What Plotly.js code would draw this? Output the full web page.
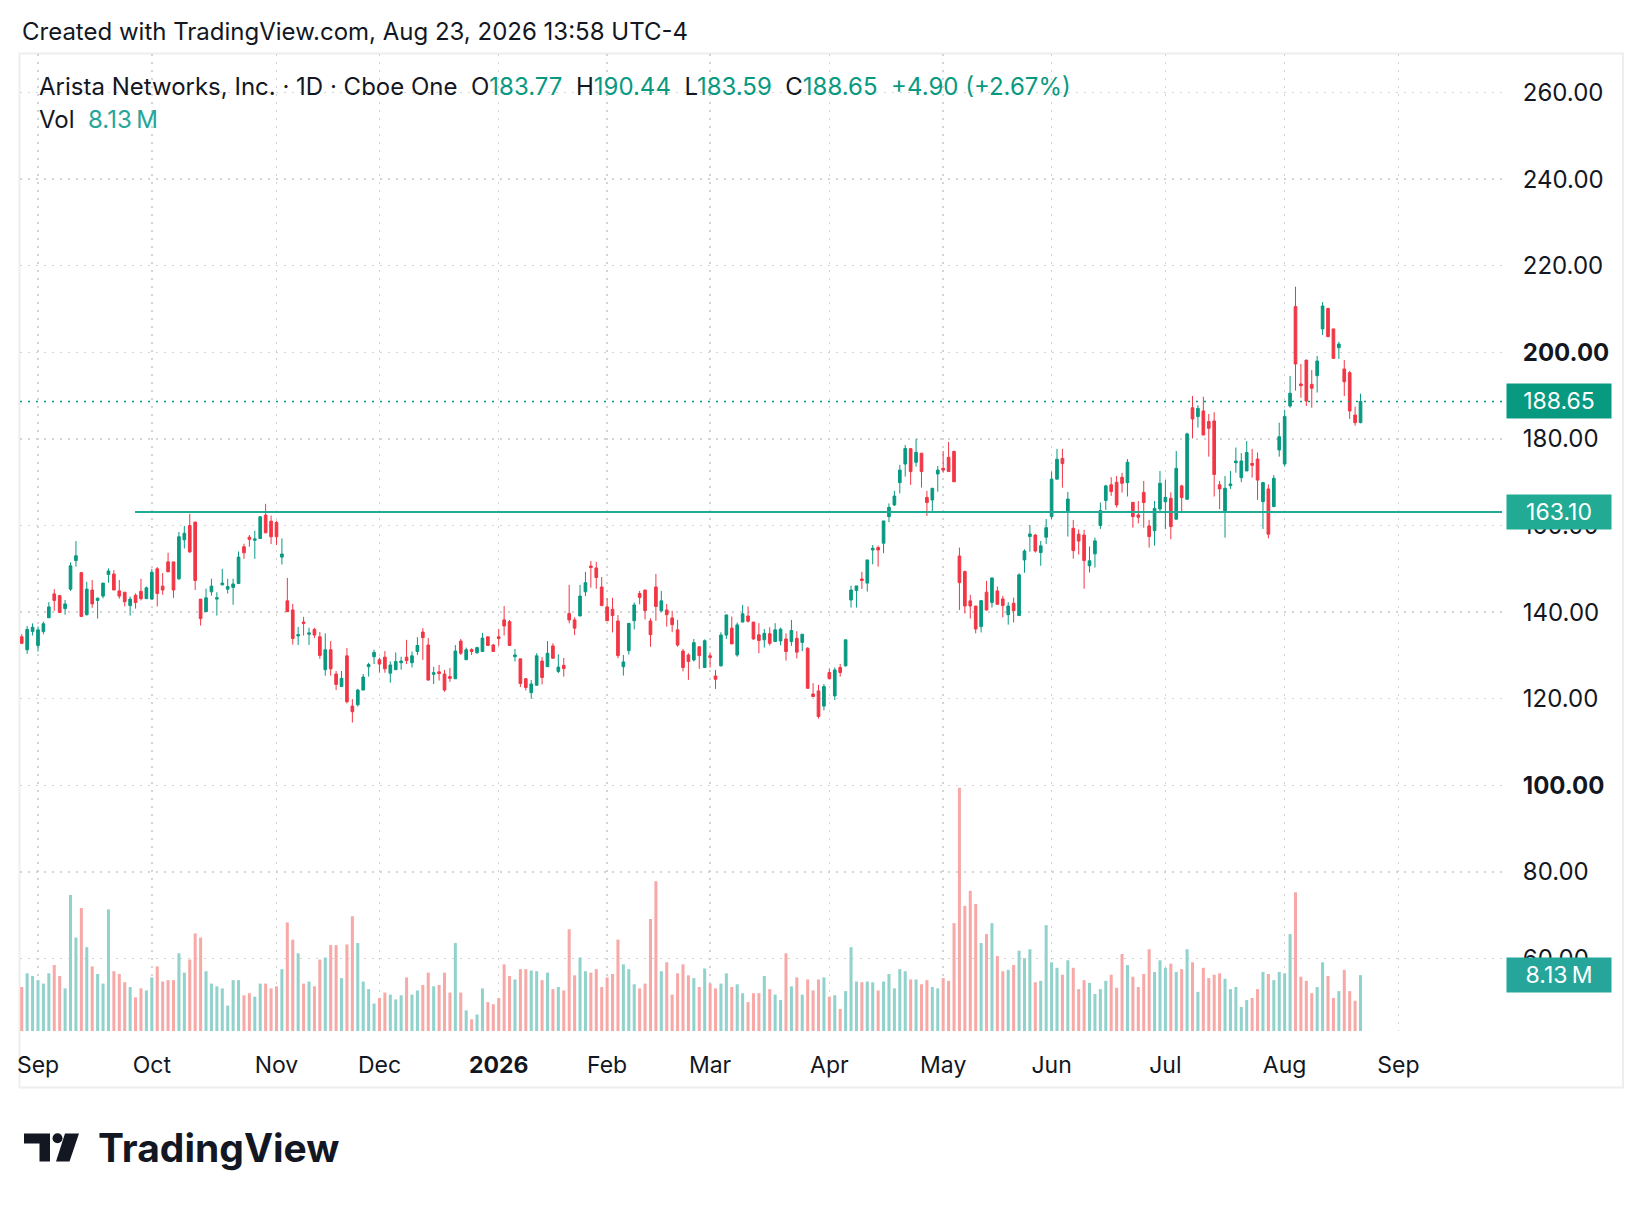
<!DOCTYPE html>
<html><head><meta charset="utf-8">
<script src="https://cdn.plot.ly/plotly-3.0.1.min.js"></script>
<style>html,body{margin:0;padding:0;background:#fff}#chart{width:1644px;height:1208px}</style>
</head><body><div id="chart"></div>
<script>
// ---------- data ----------
const firstDay = '2025-08-27';
const holidays = ['2025-09-01','2025-11-27','2025-12-25','2026-01-01','2026-01-19','2026-02-16',
  '2026-04-03','2026-05-25','2026-06-19','2026-07-03','2026-09-07'];

const open = [
134.3,131.3,135.5,132.3,135.5,138.7,144.2,143.8,140.8,145.3,
151.9,149.1,139.4,145.1,142.7,143.7,148.7,148.8,144.9,144.6,
141.5,143.9,144.8,143.1,143.0,150.0,146.0,151.6,151.6,147.7,
156.7,160.0,160.8,143.0,140.1,144.7,143.0,146.3,145.3,145.7,
146.6,155.1,157.3,156.6,157.0,162.4,161.0,160.7,152.7,142.6,
140.5,134.5,137.7,134.9,136.0,134.3,126.7,131.3,125.7,122.8,
129.9,118.3,118.6,122.0,127.4,129.7,129.0,129.6,125.9,126.7,
128.3,129.6,128.3,130.9,135.4,132.4,125.65,126.2,125.7,125.1,
124.6,133.3,129.0,131.35,130.6,130.9,134.3,132.4,134.3,138.2,
137.8,129.7,129.2,124.6,121.4,123.1,128.7,127.4,132.2,126.3,
127.7,139.7,138.2,139.1,144.7,150.65,150.2,145.8,141.2,140.65,
137.95,127.4,131.1,138.0,144.3,145.1,137.95,145.8,140.3,140.5,
138.65,135.9,131.0,130.1,128.95,132.0,127.2,129.9,125.25,127.6,
134.7,136.3,130.1,137.7,139.1,137.7,134.75,133.6,135.0,133.2,
133.35,133.8,133.2,133.95,133.0,131.65,121.1,121.8,118.3,126.05,
120.65,127.2,127.6,142.8,145.0,147.65,146.7,154.35,154.9,155.9,
162.05,164.75,169.9,174.2,177.75,174.6,176.7,166.5,165.9,171.9,
173.2,175.75,177.1,152.95,149.35,142.6,141.4,136.65,144.6,142.2,
144.9,143.05,139.4,142.05,139.2,152.05,157.45,157.8,153.75,157.3,
162.05,170.7,175.5,163.0,159.35,158.0,157.8,150.7,153.45,160.0,
165.8,169.4,170.0,171.15,169.9,165.35,162.45,167.65,159.9,158.8,
163.8,165.5,166.3,161.45,169.15,166.05,187.2,185.15,186.45,184.0,
184.15,169.4,163.2,169.2,174.5,171.05,172.6,174.35,175.35,165.5,
168.45,164.35,177.45,174.2,187.6,210.55,192.7,198.2,192.6,194.6,
205.4,210.1,205.4,201.05,196.15,195.3,185.5,183.77];

const high = [
134.9,136.8,137.4,136.7,137.8,142.3,145.3,144.0,142.8,151.5,
156.4,149.3,147.0,147.4,143.4,146.7,150.1,149.7,147.4,144.6,
143.6,144.3,147.7,145.9,150.0,150.4,149.0,153.7,151.6,158.5,
159.9,162.7,160.8,143.0,145.4,147.7,144.6,150.0,147.7,147.7,
154.0,155.8,157.8,158.8,162.2,165.0,162.3,161.1,157.0,147.9,
141.9,136.6,138.9,136.4,136.4,135.4,135.1,133.3,126.4,126.4,
131.7,119.9,122.3,125.7,128.3,131.3,129.5,131.0,128.6,130.7,
129.7,133.6,130.9,134.2,136.3,134.0,127.35,127.8,126.65,127.1,
132.4,133.8,131.8,131.65,132.0,135.2,134.3,132.65,136.1,141.4,
138.2,131.5,129.2,124.8,124.3,130.5,129.6,133.3,132.8,130.25,
129.4,146.3,138.8,146.3,149.3,151.8,151.6,148.1,143.2,143.3,
139.3,130.1,137.4,142.2,144.9,145.1,138.6,148.8,144.9,141.9,
140.3,138.2,131.5,130.5,133.8,132.2,133.7,130.7,126.65,135.35,
139.35,138.95,137.6,141.65,141.3,137.7,137.45,136.1,136.5,137.45,
136.4,135.1,138.2,135.6,134.9,131.9,123.6,123.2,123.4,127.0,
127.2,128.05,133.6,146.1,146.05,149.3,152.05,155.5,155.35,161.05,
165.1,168.0,174.0,178.6,177.9,180.0,176.7,168.0,168.6,173.75,
177.2,179.3,177.3,154.9,149.6,144.0,141.4,142.8,147.2,147.9,
145.9,143.75,142.3,143.35,148.95,154.5,160.1,158.05,156.45,161.5,
172.45,177.7,177.7,167.75,161.3,159.1,159.0,155.15,157.2,165.3,
169.4,171.15,171.45,172.15,175.35,165.35,165.65,170.3,161.3,165.65,
172.6,170.5,167.65,177.2,169.4,181.45,189.9,187.8,189.75,185.75,
186.15,170.3,171.45,172.6,178.0,176.7,179.5,177.7,176.85,170.1,
169.5,171.65,183.75,186.7,194.55,215.15,197.3,198.2,195.9,199.15,
211.6,210.3,205.4,202.45,198.2,195.7,187.45,190.44];

const low = [
132.6,130.35,134.6,130.9,134.9,138.7,140.3,139.9,139.4,144.9,
150.5,138.9,139.2,141.0,138.5,143.2,146.8,145.1,143.1,141.3,
139.2,140.8,142.7,143.1,143.0,141.3,144.0,149.3,143.3,147.4,
154.7,153.7,145.1,136.9,140.1,143.8,139.2,146.2,144.3,141.7,
146.6,152.3,155.1,152.3,157.0,158.3,155.7,155.5,151.0,140.1,
132.5,132.4,134.6,132.4,134.0,129.2,125.3,125.3,122.0,122.8,
118.9,114.5,118.2,122.0,125.1,128.0,126.0,126.0,123.7,126.7,
126.7,128.0,127.2,130.1,128.95,124.2,123.4,124.2,121.6,123.9,
124.6,130.1,129.0,130.1,130.4,130.9,132.3,130.9,132.2,134.6,
132.3,128.6,122.7,121.9,120.0,123.1,123.3,127.4,129.2,125.9,
125.1,137.4,134.7,139.1,143.7,145.65,145.4,141.5,138.0,135.3,
129.35,125.35,130.2,136.0,141.8,138.3,132.0,138.0,140.0,136.65,
135.35,132.0,126.3,124.35,128.6,126.9,127.2,127.2,122.25,127.4,
133.8,132.65,129.7,137.7,137.6,133.6,130.5,131.8,132.3,133.2,
132.3,128.8,132.2,129.3,131.0,122.4,120.3,115.4,117.3,124.6,
119.7,125.1,127.4,141.05,141.05,145.35,144.75,151.05,150.5,153.6,
160.75,164.5,167.4,171.3,169.4,173.6,168.75,162.2,163.2,167.8,
172.2,172.45,170.1,140.5,139.7,138.5,135.1,135.3,140.35,141.05,
141.8,138.8,137.1,137.6,139.2,149.1,153.95,153.75,150.7,155.75,
161.45,170.7,168.75,157.45,152.35,153.3,145.4,149.15,150.3,159.2,
163.6,166.85,164.15,167.6,166.7,159.5,160.5,159.5,154.9,155.35,
162.85,159.2,156.8,161.45,162.85,166.05,180.1,182.6,180.9,175.9,
166.7,163.8,157.2,168.45,172.2,170.0,172.6,171.05,165.9,159.2,
157.05,164.35,175.9,173.6,187.2,191.15,189.5,187.6,187.2,190.7,
204.0,203.6,198.45,198.45,189.9,184.6,183.05,183.59];

const close = [
132.8,136.0,136.5,135.9,137.3,141.2,142.7,139.9,141.9,150.7,
153.0,139.0,145.3,141.9,143.2,146.7,149.5,145.1,143.7,142.4,
143.0,142.2,143.1,145.6,149.2,144.3,145.1,149.3,145.1,157.4,
158.2,153.9,147.3,138.5,143.3,146.0,143.3,146.7,145.9,146.5,
152.7,153.7,156.8,156.9,162.0,158.3,157.4,157.4,153.4,140.1,
133.9,134.8,137.4,135.2,134.7,130.0,131.3,126.9,123.3,124.7,
119.3,117.0,122.0,125.0,127.9,130.7,128.0,126.9,127.8,128.6,
128.7,128.8,129.9,132.3,134.1,124.3,126.0,125.8,122.0,124.7,
131.0,130.5,131.3,130.9,131.8,134.0,132.3,130.9,133.9,136.8,
132.3,130.1,123.5,122.6,123.4,129.9,124.9,130.5,129.35,127.3,
126.95,138.2,136.3,143.7,146.8,150.3,148.0,141.5,138.0,139.2,
129.95,128.5,137.4,141.65,143.4,140.35,134.8,141.3,142.6,139.4,
137.1,132.4,127.2,128.6,132.95,129.95,133.4,129.5,124.5,134.7,
139.35,132.65,137.05,139.6,137.9,133.8,133.45,135.1,132.8,135.9,
136.05,130.9,135.75,130.75,134.9,122.4,120.5,115.9,122.8,124.6,
126.65,126.05,133.6,145.1,146.05,147.3,152.05,154.75,154.35,161.05,
164.2,166.8,172.8,177.8,172.45,176.9,172.45,165.3,168.6,172.8,
172.8,172.45,170.1,146.8,141.4,141.4,136.1,142.65,140.5,147.9,
141.8,141.5,141.4,140.35,148.6,154.1,158.05,154.1,155.3,159.5,
170.7,175.3,174.3,166.1,154.2,156.4,151.9,151.85,156.45,163.45,
169.15,167.85,164.75,169.75,174.6,162.05,161.9,165.3,157.45,163.95,
169.75,166.5,159.75,173.2,166.45,181.15,184.6,187.05,180.9,182.45,
171.8,168.45,168.6,169.6,174.9,174.9,176.85,173.9,170.5,169.9,
158.0,170.9,180.5,185.15,190.55,197.3,192.3,188.75,191.7,198.0,
210.7,203.6,198.6,201.9,193.2,186.45,183.75,188.65];

// volume in millions of shares
const volumeM = [
6.4,8.4,8.0,7.4,6.9,8.4,9.6,8.0,6.2,19.8,
13.6,17.9,12.2,9.4,8.3,6.9,17.7,8.7,8.3,7.1,
6.4,4.9,6.2,5.9,7.8,9.4,7.2,7.4,7.4,11.3,
8.5,10.4,14.2,13.6,8.7,6.9,6.5,6.2,3.7,7.4,
7.4,5.2,5.5,5.0,6.9,6.9,6.2,6.5,9.0,15.8,
13.3,11.3,6.9,7.2,6.5,10.4,10.7,12.5,12.5,7.7,
12.6,16.7,12.8,7.2,6.1,4.0,4.8,5.6,5.3,4.6,
5.2,7.8,5.3,5.9,6.7,8.5,6.5,6.7,8.5,5.6,
12.8,5.6,3.0,1.7,2.4,6.2,4.2,3.9,4.8,9.7,
8.0,7.5,9.0,9.0,8.8,8.7,7.4,8.5,6.1,6.4,
5.9,14.8,8.1,10.7,8.7,8.5,9.0,6.4,7.8,8.3,
13.3,9.7,9.0,6.8,6.2,6.9,16.3,21.8,8.7,10.0,
5.3,8.4,9.7,8.1,7.7,6.4,9.1,6.9,6.2,6.9,
8.4,6.4,6.8,5.5,4.2,5.5,5.5,8.0,6.1,5.3,
4.5,11.3,6.5,7.8,5.3,7.5,5.9,7.5,7.8,5.0,
5.2,3.2,5.8,12.2,7.2,7.1,7.2,7.1,5.9,7.2,
8.3,6.2,9.0,8.7,7.5,7.5,6.8,7.4,6.4,6.2,
7.7,7.3,15.7,35.4,18.2,20.4,18.5,12.8,14.1,15.7,
10.9,8.7,8.9,9.6,11.7,10.6,11.9,7.1,7.3,15.4,
10.0,9.2,8.2,10.3,9.2,6.1,7.4,7.0,5.4,6.1,
7.3,8.2,6.3,11.2,9.6,7.9,6.4,8.3,11.9,8.6,
10.3,9.2,9.8,8.6,9.0,11.9,10.0,5.7,9.2,7.7,
8.2,8.4,7.6,6.1,6.4,3.5,4.5,4.8,6.1,8.6,
8.3,7.4,8.6,8.4,14.1,20.2,7.9,7.3,5.5,6.4,
10.0,8.0,4.8,5.8,8.9,5.8,4.4,8.13];

const monthLabels = ['Sep','Oct','Nov','Dec','2026','Feb','Mar','Apr','May','Jun','Jul','Aug','Sep'];
const boldMonthLabels = ['2026'];
const priceTicks = [60,80,100,120,140,160,180,200,220,240,260];
const boldPriceTicks = [100,200];
const levelPrice = 163.10;      // horizontal ray drawn on the chart
const levelStartIndex = 20.9;   // bar where the ray begins

const headerText = 'Created with TradingView.com, Aug 23, 2026 13:58 UTC-4';
const symbolText = 'Arista Networks, Inc. · 1D · Cboe One';

// ---------- calendar of trading days ----------
const tradingDays = [];
{
  const d = new Date(firstDay + 'T00:00:00Z');
  while (tradingDays.length < 300) {
    const s = d.toISOString().slice(0, 10);
    const dow = d.getUTCDay();
    if (dow !== 0 && dow !== 6 && !holidays.includes(s)) tradingDays.push(s);
    d.setUTCDate(d.getUTCDate() + 1);
  }
}
const N = close.length;
const xIdx = close.map((_, i) => i);
const dates = tradingDays.slice(0, N);

// ---------- geometry ----------
const W = 1644, H = 1208;
const PL = 20, PT = 54, PW = 1482, PH = 977;
const PB = PT + PH;
const xRange = [-0.32, 273.1];
const priceRange = [43.26, 268.89];
const volRange = [0, 142.2];
const px = x => (x - PL) / PW;
const py = y => (PB - y) / PH;

const tickvals = [];
for (let i = 1; i < tradingDays.length; i++) {
  if (tradingDays[i].slice(5, 7) !== tradingDays[i - 1].slice(5, 7) && i <= xRange[1]) tickvals.push(i);
}
const ticktext = monthLabels.map(l => boldMonthLabels.includes(l) ? '<b>' + l + '</b>' : l);

const UP = '#089981', DOWN = '#f23645';
const VUP = '#92d2cc', VDOWN = '#f7a9a7';
const FONT = 'Inter, "Noto Sans", sans-serif';
const TXT = '#131722';

const volColors = close.map((c, i) => c >= open[i] ? VUP : VDOWN);

const last = N - 1;
const chg = close[last] - close[last - 1];
const pct = chg / close[last - 1] * 100;
const g = v => '<span style="color:' + UP + '">' + v + '</span>';
const sp = '\u00a0\u00a0';
const legendText = symbolText + sp + 'O' + g(open[last].toFixed(2)) + sp + 'H' + g(high[last].toFixed(2)) +
  sp + 'L' + g(low[last].toFixed(2)) + sp + 'C' + g(close[last].toFixed(2)) + sp +
  g((chg >= 0 ? '+' : '') + chg.toFixed(2) + ' (' + (pct >= 0 ? '+' : '') + pct.toFixed(2) + '%)');
const volText = 'Vol' + sp + '<span style="color:#26a69a">' + volumeM[last].toFixed(2) + '\u2009M</span>';

const traces = [
  {
    type: 'bar', x: xIdx, y: volumeM, yaxis: 'y', xaxis: 'x',
    marker: {color: volColors, line: {width: 0}}, hoverinfo: 'skip', width: 0.56
  },
  {
    type: 'candlestick', x: xIdx, open: open, high: high, low: low, close: close,
    text: dates, xaxis: 'x', yaxis: 'y2', whiskerwidth: 0,
    increasing: {line: {color: UP, width: 1}, fillcolor: UP},
    decreasing: {line: {color: DOWN, width: 1}, fillcolor: DOWN},
    hoverinfo: 'skip'
  }
];

const gridStyle = {showgrid: true, gridcolor: '#d4d4d4', griddash: '2px,6px', gridwidth: 1.5};

const shapes = [
  // chart frame
  {type: 'rect', xref: 'paper', yref: 'paper', x0: px(19.5), x1: px(1623), y0: py(1087.5), y1: py(53.5),
   line: {color: '#eeeeee', width: 2}, layer: 'below'},
  // last price dotted line
  {type: 'line', xref: 'paper', yref: 'y2', x0: 0, x1: 1, y0: close[last], y1: close[last],
   line: {color: UP, width: 1.5, dash: '2px,6px'}},
  // horizontal ray
  {type: 'line', xref: 'x', yref: 'y2', x0: levelStartIndex, x1: xRange[1], y0: levelPrice, y1: levelPrice,
   line: {color: '#22ab94', width: 2}},
  // TradingView logo
  {type: 'path', xref: 'paper', yref: 'paper',
   path: 'M' + px(24) + ',' + py(1133.5) + ' L' + px(50) + ',' + py(1133.5) + ' L' + px(50) + ',' + py(1161.5) +
         ' L' + px(39.5) + ',' + py(1161.5) + ' L' + px(39.5) + ',' + py(1143.5) + ' L' + px(24) + ',' + py(1143.5) + ' Z',
   fillcolor: TXT, line: {width: 0}},
  {type: 'circle', xref: 'paper', yref: 'paper', x0: px(52.5), x1: px(62.5), y0: py(1143.3), y1: py(1133.3),
   fillcolor: TXT, line: {width: 0}},
  {type: 'path', xref: 'paper', yref: 'paper',
   path: 'M' + px(65) + ',' + py(1133.5) + ' L' + px(79) + ',' + py(1133.5) + ' L' + px(69.5) + ',' + py(1161.5) +
         ' L' + px(56) + ',' + py(1161.5) + ' Z',
   fillcolor: TXT, line: {width: 0}}
];

const boxLabel = (text, yref, y, color) => ({
  xref: 'paper', yref: yref, x: px(1506), y: y, xanchor: 'left', yanchor: 'middle',
  text: text, showarrow: false, bgcolor: color, width: 104, height: 34, borderpad: 0,
  align: 'center', valign: 'middle', font: {family: FONT, size: 23, color: '#ffffff'}
});

const annotations = [
  {xref: 'paper', yref: 'paper', x: px(20), y: py(32), xanchor: 'left', yanchor: 'middle', showarrow: false,
   text: headerText, font: {family: FONT, size: 24, color: TXT}},
  {xref: 'paper', yref: 'paper', x: px(37), y: py(86.5), xanchor: 'left', yanchor: 'middle', showarrow: false,
   text: legendText, font: {family: FONT, size: 24, color: TXT}},
  {xref: 'paper', yref: 'paper', x: px(37), y: py(120), xanchor: 'left', yanchor: 'middle', showarrow: false,
   text: volText, font: {family: FONT, size: 24, color: TXT}},
  boxLabel(close[last].toFixed(2), 'y2', close[last], UP),
  boxLabel(levelPrice.toFixed(2), 'y2', levelPrice, '#22ab94'),
  boxLabel(volumeM[last].toFixed(2) + '\u2009M', 'y', volumeM[last], '#26a69a'),
  {xref: 'paper', yref: 'paper', x: px(96), y: py(1147.5), xanchor: 'left', yanchor: 'middle', showarrow: false,
   text: '<b>TradingView</b>', font: {family: FONT, size: 39, color: TXT}}
];

const layout = {
  width: W, height: H,
  margin: {l: PL, r: W - PL - PW, t: PT, b: H - PB, pad: 0},
  paper_bgcolor: '#ffffff', plot_bgcolor: '#ffffff',
  showlegend: false, hovermode: false, dragmode: false,
  barmode: 'overlay', boxgap: 0.3,
  font: {family: FONT, color: TXT},
  xaxis: Object.assign({
    type: 'linear', range: xRange, tickmode: 'array', tickvals: tickvals, ticktext: ticktext,
    ticks: 'outside', ticklen: 13, tickcolor: 'rgba(0,0,0,0)',
    tickfont: {family: FONT, size: 23, color: TXT},
    zeroline: false, showline: false, rangeslider: {visible: false}, fixedrange: true
  }, gridStyle),
  yaxis: {range: volRange, showgrid: false, zeroline: false, showticklabels: false, showline: false, fixedrange: true},
  yaxis2: Object.assign({
    overlaying: 'y', side: 'right', range: priceRange, tickmode: 'array', tickvals: priceTicks,
    ticktext: priceTicks.map(v => boldPriceTicks.includes(v) ? '<b>' + v.toFixed(2) + '</b>' : v.toFixed(2)),
    ticks: 'outside', ticklen: 15, tickcolor: 'rgba(0,0,0,0)',
    tickfont: {family: FONT, size: 24, color: TXT},
    zeroline: false, showline: false, fixedrange: true
  }, gridStyle),
  shapes: shapes,
  annotations: annotations
};

Plotly.newPlot('chart', traces, layout, {displayModeBar: false, staticPlot: true});
</script>
</body></html>
